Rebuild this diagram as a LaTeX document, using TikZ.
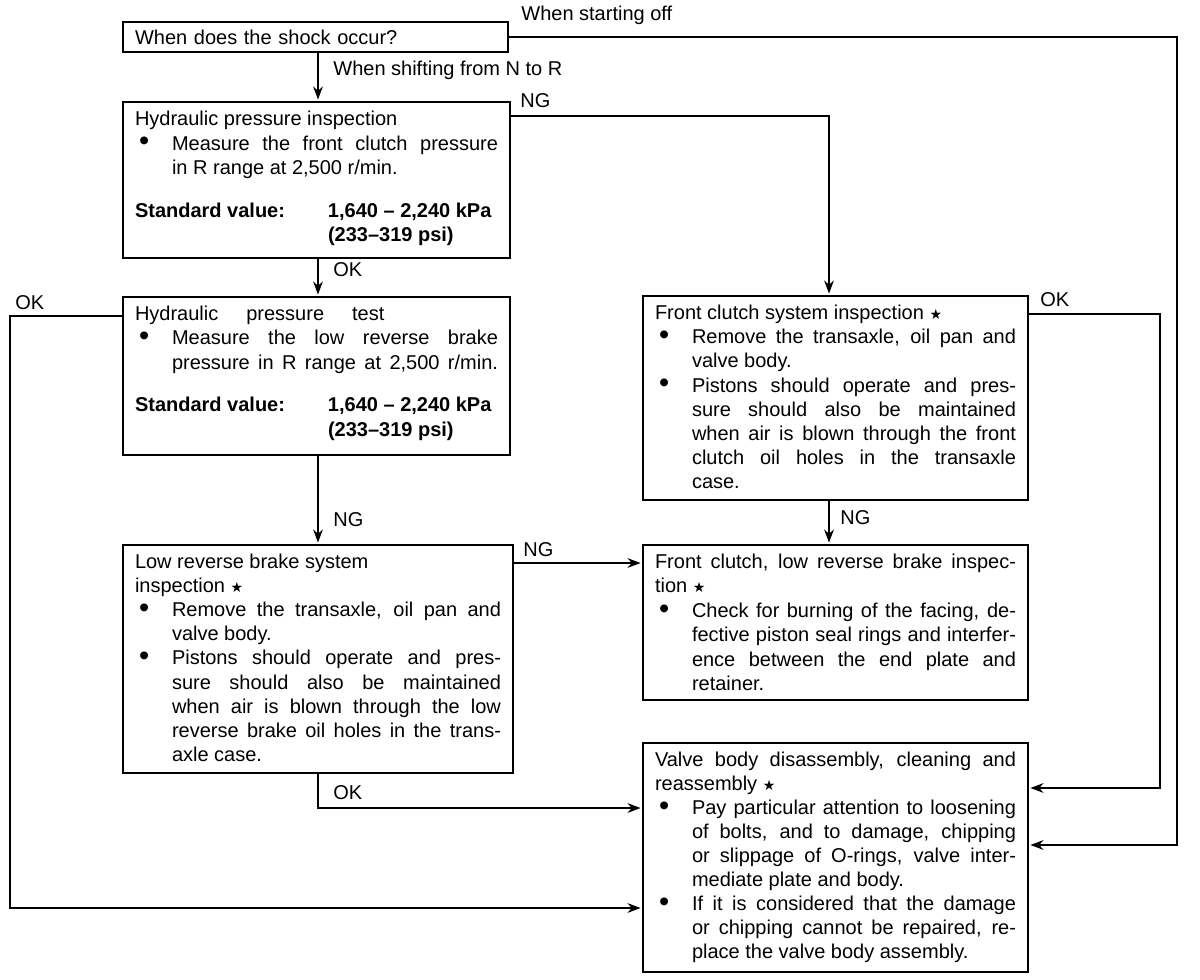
\documentclass[tikz,border=0pt]{standalone}
\usepackage{fontspec}
\usepackage{graphicx}
\setmainfont{Liberation Sans}
\newfontfamily\symfont{DejaVu Sans}
\usetikzlibrary{arrows.meta}
\newlength\bi \setlength\bi{18.5pt}
\newlength\bw
\newcommand\boxtxt[4]{\parbox[t][#2][t]{#1}{\fontsize{10pt}{#3}\selectfont\setlength\bw{\linewidth}\addtolength\bw{-\bi}#4}}
\newcommand\bigdot{\raisebox{-0.35pt}{\scalebox{1.45}{\textbullet}}}
\newcommand\stmark{\smash{{\symfont\fontsize{7pt}{7pt}\selectfont ★}}}
\newcommand\Bu[1]{\makebox[\bi][l]{\hspace{2pt}\bigdot}\makebox[\bw][s]{#1}}
\newcommand\Bc[1]{\hspace*{\bi}\makebox[\bw][s]{#1}}
\newcommand\Bl[1]{\hspace*{\bi}#1}
\newcommand\Jl[1]{\makebox[\linewidth][s]{#1}}
\newcommand\Std[1]{\makebox[96.5pt][l]{\textbf{Standard value:}}\textbf{#1}}
\newcommand\Sv[1]{\hspace*{96.5pt}\textbf{#1}}
\begin{document}
\begin{tikzpicture}[x=0.5pt,y=-0.5pt,
  font=\fontsize{10pt}{12pt}\selectfont,
  box/.style={draw, line width=1.4pt, anchor=north west, outer sep=0pt, inner xsep=6pt, inner ysep=4.5pt},
  lbl/.style={anchor=west, inner sep=0pt},
  conn/.style={line width=1.2pt},
  arr/.style={conn, -{Stealth[length=6.5pt,width=4.8pt]}, shorten >=1.2pt}]
\useasboundingbox (0,0) rectangle (1200,980);

% boxes
\node[box, inner ysep=0pt, minimum height=15pt, text width=180.5pt, align=left] (A) at (123,22) {When does the shock occur?};

\node[box] (B) at (123,102) {\boxtxt{181.5pt}{69pt}{12.3pt}{%
Hydraulic pressure inspection\\
\Bu{Measure the front clutch pressure}\\
\Bl{in R range at 2,500 r/min.}\\[9pt]
\Std{1,640 -- 2,240 kPa}\\
\Sv{(233--319 psi)}}};

\node[box] (C) at (123,297) {\boxtxt{181.5pt}{70pt}{12.2pt}{%
Hydraulic\hspace{14pt}pressure\hspace{14pt}test\\
\Bu{Measure the low reverse brake}\\
\Bc{pressure in R range at 2,500 r/min.}\\[9pt]
\Std{1,640 -- 2,240 kPa}\\
\Sv{(233--319 psi)}}};

\node[box] (E) at (123,545) {\boxtxt{183pt}{105pt}{12.05pt}{%
Low reverse brake system\\
inspection \stmark\\
\Bu{Remove the transaxle, oil pan and}\\
\Bl{valve body.}\\
\Bu{Pistons should operate and pres-}\\
\Bc{sure should also be maintained}\\
\Bc{when air is blown through the low}\\
\Bc{reverse brake oil holes in the trans-}\\
\Bl{axle case.}}};

\node[box] (D) at (643,296) {\boxtxt{180.5pt}{93pt}{12.1pt}{%
Front clutch system inspection \stmark\\
\Bu{Remove the transaxle, oil pan and}\\
\Bl{valve body.}\\
\Bu{Pistons should operate and pres-}\\
\Bc{sure should also be maintained}\\
\Bc{when air is blown through the front}\\
\Bc{clutch oil holes in the transaxle}\\
\Bl{case.}}};

\node[box] (F) at (643,545) {\boxtxt{180.5pt}{68.5pt}{12.2pt}{%
\Jl{Front clutch, low reverse brake inspec-}\\
tion \stmark\\
\Bu{Check for burning of the facing, de-}\\
\Bc{fective piston seal rings and interfer-}\\
\Bc{ence between the end plate and}\\
\Bl{retainer.}}};

\node[box] (G) at (643,743) {\boxtxt{180.5pt}{105.5pt}{12pt}{%
\Jl{Valve body disassembly, cleaning and}\\
reassembly \stmark\\
\Bu{Pay particular attention to loosening}\\
\Bc{of bolts, and to damage, chipping}\\
\Bc{or slippage of O-rings, valve inter-}\\
\Bl{mediate plate and body.}\\
\Bu{If it is considered that the damage}\\
\Bc{or chipping cannot be repaired, re-}\\
\Bl{place the valve body assembly.}}};

% labels
\node[lbl] (l1) at (521,15) {When starting off};
\node[lbl] (l2) at (333,70) {When shifting from N to R};
\node[lbl] (l3) at (520,101) {NG};
\node[lbl] (l4) at (333,270) {OK};
\node[lbl] (l5) at (15,303) {OK};
\node[lbl] (l6) at (333,520) {NG};
\node[lbl] (l7) at (523,550) {NG};
\node[lbl] (l8) at (333,793) {OK};
\node[lbl] (l9) at (1040,300) {OK};
\node[lbl] (l10) at (840,518) {NG};

% waypoints
\coordinate (a1) at (1177,37);
\coordinate (a2) at (1177,845);
\coordinate (xm) at (318,0);
\coordinate (n1) at (829,116);
\coordinate (w1) at (10,316);
\coordinate (w2) at (10,908);
\coordinate (e1) at (0,563);
\coordinate (e2) at (318,808);
\coordinate (d1) at (1160,314);
\coordinate (d2) at (1160,788);

% connectors
\draw[arr] (A.east) -- (a1) -- (a2) -- (G.east |- a2);
\draw[arr] (A.south -| xm) -- (B.north -| xm);
\draw[arr] (B.east |- n1) -- (n1) -- (n1 |- D.north);
\draw[arr] (B.south -| xm) -- (C.north -| xm);
\draw[arr] (C.west |- w1) -- (w1) -- (w2) -- (G.west |- w2);
\draw[arr] (C.south -| xm) -- (E.north -| xm);
\draw[arr] (E.east |- e1) -- (F.west |- e1);
\draw[arr] (E.south -| e2) -- (e2) -- (G.west |- e2);
\draw[arr] (D.east |- d1) -- (d1) -- (d2) -- (G.east |- d2);
\draw[arr] (D.south -| n1) -- (F.north -| n1);
\end{tikzpicture}
\end{document}
